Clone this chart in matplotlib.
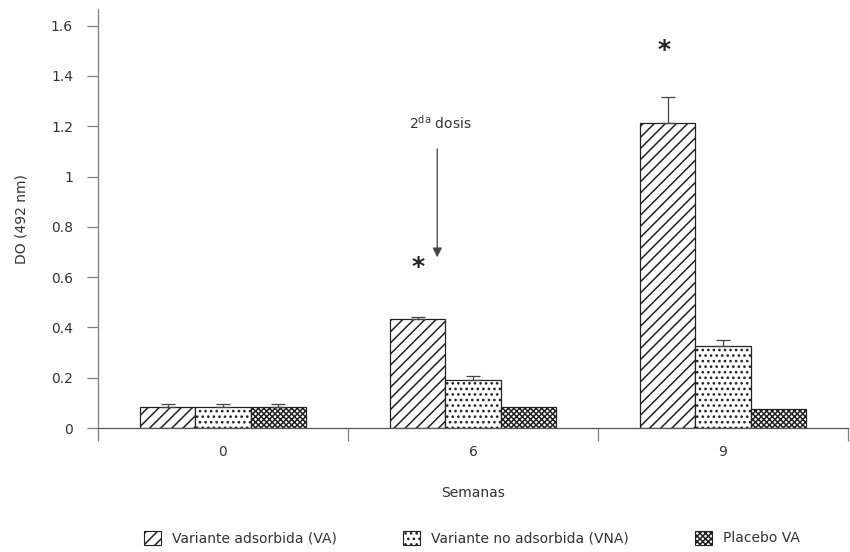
import matplotlib
matplotlib.use('Agg')
import matplotlib.pyplot as plt
from matplotlib.patches import Patch
from matplotlib.ticker import FormatStrFormatter
import numpy as np

# datos
semanas = ['0', '6', '9']
series = ['Variante adsorbida (VA)', 'Variante no adsorbida (VNA)', 'Placebo VA']
va = [0.085, 0.432, 1.214]
va_err = [0.011, 0.008, 0.103]
vna = [0.085, 0.190, 0.328]
vna_err = [0.011, 0.017, 0.020]
placebo = [0.085, 0.085, 0.077]
placebo_err = [0.011, 0.0, 0.0]
yticks = [0, 0.2, 0.4, 0.6, 0.8, 1, 1.2, 1.4, 1.6]

hatches = ['///', '...', 'xxxxxx']
gris = '#808080'
texto = '#333333'

plt.rcParams['hatch.linewidth'] = 1.1

fig = plt.figure(figsize=(8.5, 5.52), dpi=100)
ax = fig.add_axes([98 / 850, 124 / 552, 750 / 850, 418.7 / 552])

x = np.arange(len(semanas))
ancho = 0.221
valores = [va, vna, placebo]
errores = [va_err, vna_err, placebo_err]
for i in range(3):
    pos = x + (i - 1) * ancho
    ax.bar(pos, valores[i], ancho, color='white', edgecolor='#222222',
           linewidth=0.9, hatch=hatches[i], zorder=2)
    err = errores[i]
    mask = [e > 0 for e in err]
    ax.errorbar(pos[mask], np.array(valores[i])[mask],
                yerr=[np.zeros(sum(mask)), np.array(err)[mask]],
                fmt='none', ecolor='#444444', elinewidth=0.9, capsize=5,
                capthick=0.9, zorder=3)

ax.set_xlim(-0.5, 2.5)
ax.set_ylim(0, 1.665)
ax.set_yticks(yticks)
ax.yaxis.set_major_formatter(FormatStrFormatter('%g'))
ax.tick_params(axis='y', length=8, width=0.9, color=gris, labelcolor=texto,
               labelsize=10, pad=10)

# marcas del eje x en los limites de cada grupo, etiquetas en el centro
ax.set_xticks([-0.5, 0.5, 1.5, 2.5])
ax.set_xticklabels([])
ax.set_xticks(x, minor=True)
ax.set_xticklabels(semanas, minor=True)
ax.tick_params(axis='x', which='major', length=9, width=0.9, color=gris)
ax.tick_params(axis='x', which='minor', length=0, labelcolor=texto,
               labelsize=10, pad=12)

for s in ['top', 'right']:
    ax.spines[s].set_visible(False)
ax.spines['left'].set_color(gris)
ax.spines['bottom'].set_color('#555555')
ax.spines['left'].set_linewidth(0.9)
ax.spines['bottom'].set_linewidth(0.9)

ax.set_xlabel('Semanas', fontsize=10, color=texto, labelpad=20)
ax.set_ylabel('DO (492 nm)', fontsize=10, color=texto, labelpad=16)

# anotaciones
ax.text(0.78, 0.64, '*', fontsize=18, fontweight='bold', ha='center',
        va='center', color='#222222')
ax.text(1.764, 1.504, '*', fontsize=18, fontweight='bold', ha='center',
        va='center', color='#222222')
ax.annotate('', xy=(0.857, 0.668), xytext=(0.857, 1.121),
            arrowprops=dict(arrowstyle='-|>', color='#444444', lw=0.9,
                            mutation_scale=14))
ax.text(0.868, 1.214, r'2$^{\mathrm{da}}$ dosis', fontsize=10, ha='center',
        va='center', color=texto)

handles = [Patch(facecolor='white', edgecolor='#222222', hatch=hatches[i],
                 linewidth=0.8, label=series[i]) for i in range(3)]
fig.legend(handles=handles, loc='center', bbox_to_anchor=(472 / 850, 14 / 552),
           ncol=3, frameon=False, fontsize=10, handlelength=1.2,
           handleheight=1.2, handletextpad=0.8, columnspacing=4.8,
           labelcolor=texto)

fig.savefig('out.png', dpi=100)
